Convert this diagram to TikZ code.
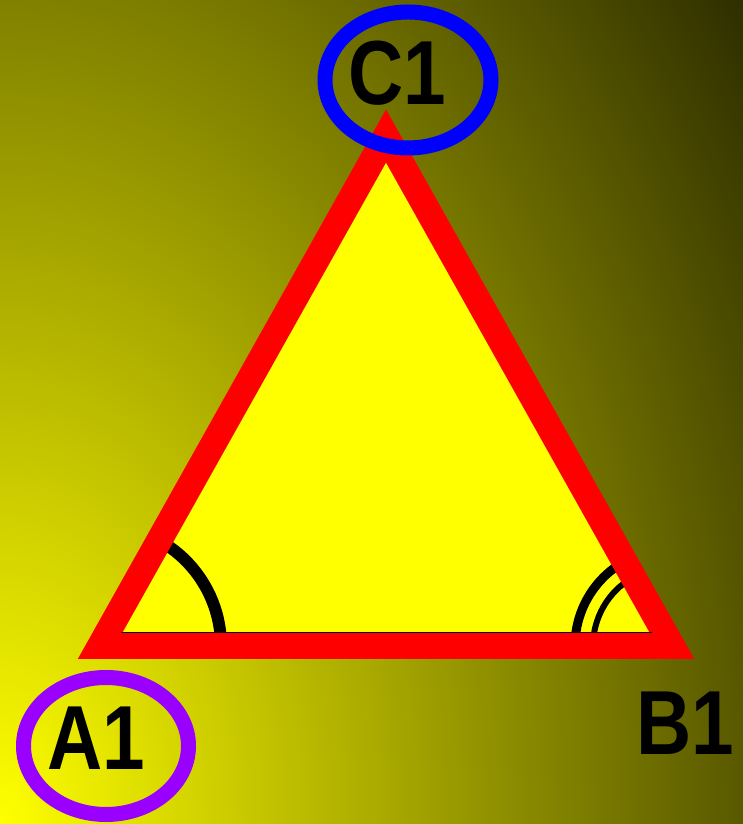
\documentclass[tikz,border=0pt]{standalone}
\usepackage{fontspec}
\setmainfont{Liberation Sans}
\newfontfamily\labelfont{Liberation Sans}[FakeStretch=0.84]
\usepackage{xcolor}
\definecolor{cBgLight}{RGB}{255,255,0}
\definecolor{cBgDark}{RGB}{42,42,0}
\definecolor{cEdge}{RGB}{255,0,0}
\definecolor{cFill}{RGB}{255,255,0}
\definecolor{cRingA}{RGB}{153,0,255}
\definecolor{cRingC}{RGB}{0,0,255}
\usepackage{tikz}
\usetikzlibrary{shapes.geometric,calc}
\tikzset{
  tri-fill/.style={fill=cFill},
  tri-edge/.style={draw=cEdge,line width=26pt,line join=miter,miter limit=10},
  tri-base/.style={draw=black,line width=1pt},
  angle-mark/.style={draw=black,line width=12pt},
  angle-mark-mid/.style={draw=black,line width=9pt},
  angle-mark-thin/.style={draw=black,line width=6pt},
  label-text/.style={font=\labelfont\bfseries\fontsize{91}{91}\selectfont,inner sep=0pt,text=black},
  label-ring/.style={ellipse,draw,line width=15pt,inner sep=0pt},
}

\begin{document}
\begin{tikzpicture}[x=1pt,y=1pt]
  \useasboundingbox (0,0) rectangle (743,824);
  % background
  \begin{scope}
    \clip (0,0) rectangle (743,824);
    \shade[inner color=cBgLight,outer color=cBgDark] (0,0) ellipse (950 and 1390);
  \end{scope}

  \coordinate (A) at (100,178);
  \coordinate (B) at (672,178);
  \coordinate (C) at (386,688);

  \fill[tri-fill] (A) -- (B) -- (C) -- cycle;
  % angle marks
  \draw[angle-mark] ($(A)+(0:121)$) arc[start angle=0,end angle=60,radius=121];
  \draw[angle-mark-mid] ($(B)+(120:97)$) arc[start angle=120,end angle=180,radius=97];
  \draw[angle-mark-thin] ($(B)+(120:79)$) arc[start angle=120,end angle=180,radius=79];
  \draw[tri-edge] (A) -- (B) -- (C) -- cycle;
  \draw[tri-base] ($(A)+(21,13)$) -- ($(B)+(-20,13)$);

  % labels
  \node[label-ring,draw=cRingA,minimum width=165pt,minimum height=137pt] (ringA) at (106,78) {};
  \node[label-text] (labA) at (96,85.5) {A1};
  \node[label-text] (labB) at (685,101) {B1};
  \node[label-ring,draw=cRingC,minimum width=166pt,minimum height=136pt] (ringC) at (408,744) {};
  \node[label-text] (labC) at (397,750.5) {C1};
\end{tikzpicture}
\end{document}
